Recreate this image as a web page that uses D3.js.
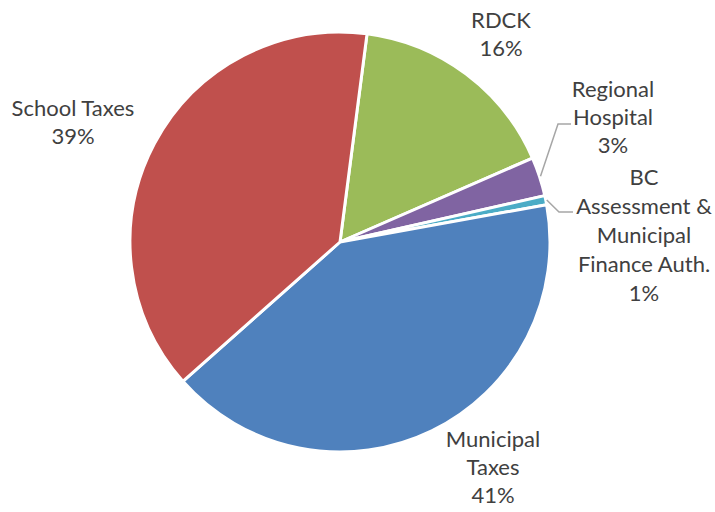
<!DOCTYPE html>
<html>
<head>
<meta charset="utf-8">
<script src="https://cdn.jsdelivr.net/npm/d3@7"></script>
<style>
  body { margin: 0; background: #fff; }
  text { font-family: Lato, "Liberation Sans", sans-serif; fill: #404040; }
</style>
</head>
<body>
<svg id="chart"></svg>
<script>
const width = 715, height = 512;

// data (clockwise from just right of 12 o'clock)
const categories = ["RDCK", "Regional Hospital", "BC Assessment & Municipal Finance Auth.", "Municipal Taxes", "School Taxes"];
const values = [16.4, 3.0, 0.7, 41.3, 38.6];
const pctLabels = ["16%", "3%", "1%", "41%", "39%"];
const colors = ["#9BBB59", "#8064A2", "#4BACC6", "#4F81BD", "#C0504D"];
// label lines as they wrap in the chart
const labelLines = [
  ["RDCK"],
  ["Regional", "Hospital"],
  ["BC", "Assessment &", "Municipal", "Finance Auth."],
  ["Municipal", "Taxes"],
  ["School Taxes"]
];

const svg = d3.select("#chart").attr("width", width).attr("height", height);

const cx = 340, cy = 242, radius = 210;
const startDeg = 7.4;

const pie = d3.pie().sort(null).value(d => d)
  .startAngle(startDeg * Math.PI / 180)
  .endAngle((startDeg + 360) * Math.PI / 180);
const arc = d3.arc().innerRadius(0).outerRadius(radius);

const arcs = pie(values);

const g = svg.append("g").attr("transform", `translate(${cx},${cy})`);

g.selectAll("path")
  .data(arcs)
  .enter()
  .append("path")
  .attr("d", arc)
  .attr("fill", (d, i) => colors[i])
  .attr("stroke", "#fff")
  .attr("stroke-width", 3)
  .attr("stroke-linejoin", "round");

// label placement (centre x, first baseline y, line height)
const labelPos = [
  {x: 501, y: 28, lh: 28},
  {x: 613, y: 97, lh: 28},
  {x: 644, y: 185, lh: 29},
  {x: 493, y: 447, lh: 28},
  {x: 73, y: 116, lh: 28}
];

labelLines.forEach((lines, i) => {
  const p = labelPos[i];
  const all = lines.concat([pctLabels[i]]);
  const t = svg.append("text")
    .attr("text-anchor", "middle")
    .style("font-size", "22px");
  all.forEach((s, j) => {
    t.append("tspan").attr("x", p.x).attr("y", p.y + j * p.lh).text(s);
  });
});

// leader lines for the two thin slices
const leaders = [
  {i: 1, elbow: [558, 124], end: [571, 124]},
  {i: 2, elbow: [559, 212], end: [573, 212]}
];
leaders.forEach(l => {
  const a = (arcs[l.i].startAngle + arcs[l.i].endAngle) / 2;
  const sx = cx + Math.sin(a) * (radius + 1);
  const sy = cy - Math.cos(a) * (radius + 1);
  svg.append("polyline")
    .attr("points", [[sx, sy], l.elbow, l.end].map(p => p.join(",")).join(" "))
    .attr("fill", "none")
    .attr("stroke", "#a6a6a6")
    .attr("stroke-width", 1.5);
});
</script>
</body>
</html>
